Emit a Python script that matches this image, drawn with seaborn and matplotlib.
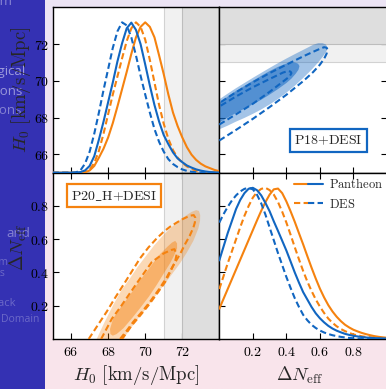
import matplotlib
matplotlib.use("Agg")
import numpy as np
import matplotlib.pyplot as plt
import seaborn as sns
from matplotlib.lines import Line2D
from matplotlib.patches import Rectangle
from matplotlib.legend_handler import HandlerTuple
from matplotlib.ticker import FixedLocator, FixedFormatter

# ---------------------------------------------------------------- data
h0_range = [65.0, 74.0]
dn_range = [0.0, 1.0]
h0_ticks = [66, 68, 70, 72]
dn_ticks = [0.2, 0.4, 0.6, 0.8]
sh0es_mean, sh0es_sigma = 73.0, 1.0

# marginal posteriors (peak-normalised)
h0_grid = [65.0, 65.25, 65.5, 65.75, 66.0, 66.25, 66.5, 66.75, 67.0, 67.25, 67.5, 67.75,
           68.0, 68.25, 68.5, 68.75, 69.0, 69.25, 69.5, 69.75, 70.0, 70.25, 70.5, 70.75,
           71.0, 71.25, 71.5, 71.75, 72.0, 72.25, 72.5, 72.75, 73.0, 73.25, 73.5, 73.75, 74.0]
p18_pan_h0_pdf = [0, 0, 0, 0, 0, 0.001, 0.004, 0.015, 0.045, 0.11, 0.22, 0.34,
                  0.47, 0.60, 0.74, 0.86, 0.96, 0.998, 0.95, 0.855, 0.72, 0.58, 0.45, 0.34,
                  0.25, 0.19, 0.135, 0.095, 0.07, 0.048, 0.034, 0.022, 0.014, 0.008, 0.004, 0.002, 0.001]
p18_des_h0_pdf = [0, 0, 0, 0, 0, 0.002, 0.015, 0.06, 0.14, 0.26, 0.40, 0.55,
                  0.69, 0.83, 0.94, 1.0, 0.98, 0.9, 0.78, 0.645, 0.52, 0.40, 0.29, 0.205,
                  0.14, 0.09, 0.058, 0.037, 0.022, 0.012, 0.006, 0.003, 0.001, 0, 0, 0, 0]
p20_pan_h0_pdf = [0, 0, 0, 0, 0, 0, 0, 0.003, 0.015, 0.045, 0.10, 0.16,
                  0.235, 0.33, 0.44, 0.555, 0.67, 0.79, 0.90, 0.97, 1.0, 0.97, 0.90, 0.78,
                  0.655, 0.52, 0.40, 0.31, 0.235, 0.17, 0.12, 0.085, 0.06, 0.042, 0.03, 0.018, 0.01]
p20_des_h0_pdf = [0, 0, 0, 0, 0, 0, 0, 0.003, 0.02, 0.065, 0.145, 0.26,
                  0.39, 0.52, 0.64, 0.76, 0.875, 0.96, 1.0, 0.97, 0.885, 0.75, 0.60, 0.45,
                  0.325, 0.225, 0.15, 0.10, 0.066, 0.042, 0.025, 0.013, 0.006, 0.002, 0, 0, 0]

dn_grid = [0.0, 0.025, 0.05, 0.075, 0.1, 0.125, 0.15, 0.175, 0.2, 0.225, 0.25, 0.275, 0.3, 0.325,
           0.35, 0.375, 0.4, 0.425, 0.45, 0.475, 0.5, 0.525, 0.55, 0.575, 0.6, 0.625, 0.65,
           0.675, 0.7, 0.725, 0.75, 0.775, 0.8, 0.825, 0.85, 0.875, 0.9, 0.925, 0.95, 0.975, 1.0]
p18_pan_dn_pdf = [0.52, 0.61, 0.70, 0.78, 0.86, 0.92, 0.965, 0.994, 1.0, 0.984, 0.95, 0.90, 0.845, 0.778,
                  0.715, 0.65, 0.585, 0.513, 0.44, 0.373, 0.31, 0.261, 0.212, 0.17, 0.137, 0.11, 0.087,
                  0.069, 0.055, 0.044, 0.034, 0.027, 0.021, 0.017, 0.013, 0.01, 0.008, 0.006, 0.005, 0.004, 0.003]
p18_des_dn_pdf = [0.77, 0.825, 0.874, 0.916, 0.95, 0.976, 0.993, 1.0, 0.99, 0.954, 0.897, 0.823, 0.738, 0.653,
                  0.568, 0.489, 0.41, 0.338, 0.27, 0.212, 0.16, 0.124, 0.094, 0.073, 0.056, 0.043, 0.033,
                  0.025, 0.019, 0.014, 0.01, 0.007, 0.005, 0.003, 0.002, 0.0015, 0.001, 0.0005, 0.0, 0.0, 0.0]
p20_pan_dn_pdf = [0.2, 0.265, 0.33, 0.395, 0.46, 0.525, 0.59, 0.655, 0.72, 0.785, 0.848, 0.905, 0.955, 0.99,
                  0.995, 0.965, 0.91, 0.845, 0.775, 0.70, 0.626, 0.548, 0.472, 0.40, 0.333, 0.275, 0.224,
                  0.182, 0.147, 0.118, 0.094, 0.076, 0.061, 0.05, 0.04, 0.032, 0.025, 0.019, 0.0145, 0.011, 0.008]
p20_des_dn_pdf = [0.33, 0.415, 0.50, 0.58, 0.66, 0.74, 0.815, 0.88, 0.935, 0.972, 0.993, 1.0, 0.985, 0.955,
                  0.906, 0.842, 0.77, 0.69, 0.607, 0.527, 0.45, 0.38, 0.318, 0.262, 0.214, 0.172, 0.135,
                  0.107, 0.084, 0.066, 0.052, 0.04, 0.03, 0.024, 0.018, 0.014, 0.011, 0.008, 0.006, 0.004, 0.003]

# 2D credible regions, P18+DESI (x: Delta N_eff, y: H0)
p18_pan_c95_dn = [0.0, 0.05, 0.1, 0.15, 0.2, 0.25, 0.3, 0.35, 0.4, 0.45, 0.5, 0.55, 0.59, 0.62, 0.64, 0.645,
                  0.635, 0.615, 0.59, 0.56, 0.5, 0.45, 0.4, 0.35, 0.3, 0.25, 0.2, 0.15, 0.1, 0.05, 0.0]
p18_pan_c95_h0 = [67.36, 67.56, 67.78, 67.98, 68.2, 68.44, 68.71, 69.01, 69.35, 69.73, 70.15, 70.6, 71.0, 71.35, 71.62, 71.82,
                  71.98, 72.05, 72.05, 71.96, 71.68, 71.45, 71.21, 70.96, 70.7, 70.43, 70.16, 69.88, 69.6, 69.3, 68.99]
p18_pan_c68_dn = [0.0, 0.05, 0.1, 0.15, 0.2, 0.25, 0.3, 0.35, 0.4, 0.43, 0.455, 0.472, 0.478,
                  0.47, 0.45, 0.42, 0.4, 0.35, 0.3, 0.25, 0.2, 0.15, 0.1, 0.05, 0.0]
p18_pan_c68_h0 = [67.73, 68.0, 68.25, 68.48, 68.72, 68.97, 69.25, 69.55, 69.88, 70.12, 70.38, 70.6, 70.8,
                  70.93, 71.0, 71.0, 70.94, 70.76, 70.53, 70.27, 70.0, 69.72, 69.45, 69.14, 68.81]
p18_des_c95_dn = [0.0, 0.1, 0.2, 0.3, 0.4, 0.5, 0.56, 0.6, 0.625, 0.64, 0.645,
                  0.64, 0.625, 0.6, 0.56, 0.5, 0.4, 0.3, 0.2, 0.1, 0.0]
p18_des_c95_h0 = [66.75, 67.33, 67.93, 68.57, 69.24, 69.98, 70.48, 70.88, 71.2, 71.48, 71.7,
                  71.8, 71.83, 71.74, 71.58, 71.33, 70.88, 70.42, 69.92, 69.38, 68.79]
p18_des_c68_dn = [0.0, 0.1, 0.2, 0.3, 0.4, 0.42, 0.43, 0.425, 0.41, 0.38, 0.3, 0.2, 0.1, 0.0]
p18_des_c68_h0 = [67.62, 68.18, 68.75, 69.4, 70.1, 70.25, 70.42, 70.5, 70.53, 70.45, 70.1, 69.65, 69.15, 68.6]

# 2D credible regions, P20_H+DESI (x: H0, y: Delta N_eff)
p20_pan_c95_h0 = [67.38, 67.8, 68.27, 68.7, 69.18, 69.6, 70.08, 70.5, 70.98, 71.4, 71.88, 72.2, 72.5, 72.75,
                  72.9, 72.97, 72.96, 72.87, 72.6, 72.25, 71.88, 71.4, 70.98, 70.5, 70.08, 69.6, 69.18, 68.82]
p20_pan_c95_dn = [0.0, 0.1, 0.204, 0.29, 0.365, 0.435, 0.505, 0.565, 0.625, 0.67, 0.716, 0.742, 0.764, 0.775,
                  0.77, 0.745, 0.71, 0.665, 0.59, 0.52, 0.455, 0.383, 0.32, 0.25, 0.187, 0.12, 0.058, 0.0]
p20_pan_c68_h0 = [68.12, 68.1, 68.27, 68.7, 69.18, 69.6, 70.08, 70.45, 70.8, 71.2, 71.45, 71.62,
                  71.72, 71.72, 71.55, 71.34, 70.98, 70.62, 70.2, 69.72, 69.25, 68.82, 68.46, 68.25]
p20_pan_c68_dn = [0.03, 0.06, 0.124, 0.193, 0.265, 0.335, 0.405, 0.46, 0.51, 0.555, 0.58, 0.59,
                  0.575, 0.545, 0.5, 0.455, 0.39, 0.325, 0.255, 0.185, 0.12, 0.064, 0.03, 0.02]
p20_des_c95_h0 = [66.95, 67.45, 67.92, 68.37, 68.82, 69.27, 69.72, 70.17, 70.62, 71.0, 71.34, 71.7, 72.0, 72.25, 72.45,
                  72.62, 72.7, 72.68, 72.6, 72.4, 72.15, 71.88, 71.5, 71.16, 70.72, 70.26, 69.8, 69.36, 69.0, 68.64]
p20_des_c95_dn = [0.0, 0.085, 0.164, 0.247, 0.325, 0.405, 0.485, 0.55, 0.605, 0.645, 0.675, 0.7, 0.72, 0.733, 0.742,
                  0.745, 0.73, 0.7, 0.67, 0.62, 0.57, 0.51, 0.44, 0.37, 0.295, 0.224, 0.16, 0.104, 0.05, 0.0]
p20_des_c68_h0 = [67.62, 68.2, 68.65, 69.1, 69.7, 70.36, 71.0, 71.4, 71.58,
                  71.7, 71.6, 71.08, 70.62, 70.18, 69.72, 69.28, 68.83, 68.75]
p20_des_c68_dn = [0.0, 0.122, 0.19, 0.263, 0.36, 0.463, 0.515, 0.535, 0.54,
                  0.51, 0.46, 0.343, 0.27, 0.203, 0.14, 0.082, 0.012, 0.0]

legend_labels = ["Pantheon", "DES"]
dataset_labels = [r"P18{+}DESI", r"P20\_H{+}DESI"]
sidebar_words = ["Spectrum", "Cosmological", "Observations", "Simulations",
                 "and", "Spectrum", "Rates", "Feedback", "Domain"]

# ---------------------------------------------------------------- style
sns.set_theme(style="ticks")
plt.rcParams["font.family"] = ["DejaVu Serif"]
plt.rcParams["mathtext.fontset"] = "cm"

BLUE = "#1166c1"
ORANGE = "#f5820f"
LW = 1.5
DASH = (0, (3.0, 1.6))
W_PX, H_PX = 386.0, 389.0

fig = plt.figure(figsize=(3.86, 3.89), dpi=100)


def px_box(left, top, right, bottom):
    return [left / W_PX, 1 - bottom / H_PX, (right - left) / W_PX, (bottom - top) / H_PX]


# slide background: gradient, side bar and its faded entries
bg = fig.add_axes([0, 0, 1, 1], zorder=-10)
top_c = np.array([236, 229, 245]) / 255.0
bot_c = np.array([250, 228, 235]) / 255.0
t = np.linspace(0, 1, 200)[:, None, None]
bg.imshow(top_c * (1 - t) + bot_c * t, extent=[0, W_PX, H_PX, 0], aspect="auto")
bg.add_patch(Rectangle((0, 0), 45, H_PX, color="#3431b3", lw=0))
side_pos = [(12, 1), (25, 71), (23, 91), (22, 110), (30, 233), (8, 262), (5, 273), (16, 303), (0.5, 320)]
side_ha = ["right"] * 8 + ["left"]
side_col = ["#8a87d4", "#9e9cdc", "#9997da", "#8583d2", "#8583d2", "#6c69c8", "#6c69c8", "#6c69c8", "#6c69c8"]
side_fs = [9.5, 9.5, 9.5, 9.5, 9.5, 7.5, 7.5, 8, 7.5]
for word, (xe, yc), ha, col, fs in zip(sidebar_words, side_pos, side_ha, side_col, side_fs):
    bg.text(xe, yc, word, ha=ha, va="center", color=col, fontsize=fs, family="Open Sans")
bg.set_xlim(0, W_PX)
bg.set_ylim(H_PX, 0)
bg.axis("off")

cols = [52.6, 219.3, 387.0]
rows = [7.3, 172.7, 339.0]
ax_tl = fig.add_axes(px_box(cols[0], rows[0], cols[1], rows[1]))
ax_tr = fig.add_axes(px_box(cols[1], rows[0], cols[2], rows[1]))
ax_bl = fig.add_axes(px_box(cols[0], rows[1], cols[1], rows[2]))
ax_br = fig.add_axes(px_box(cols[1], rows[1], cols[2], rows[2]))


def dollar(v):
    return "$%g$" % v


def setup(ax, xlim, ylim, xt, yt, sides, lab_x, lab_y):
    ax.set_facecolor("white")
    ax.set_xlim(*xlim)
    ax.set_ylim(*ylim)
    ax.xaxis.set_major_locator(FixedLocator(xt))
    ax.yaxis.set_major_locator(FixedLocator(yt))
    ax.xaxis.set_major_formatter(FixedFormatter([dollar(v) for v in xt]))
    ax.yaxis.set_major_formatter(FixedFormatter([dollar(v) for v in yt]))
    ax.xaxis.set_minor_locator(FixedLocator([]))
    ax.yaxis.set_minor_locator(FixedLocator([]))
    for s in ax.spines.values():
        s.set_visible(True)
        s.set_linewidth(1.0)
        s.set_color("black")
    ax.tick_params(axis="both", which="major", direction="in", length=4, width=0.8, color="black",
                   top="t" in sides, bottom="b" in sides, left="l" in sides, right="r" in sides,
                   labelbottom=lab_x, labelleft=lab_y, labeltop=False, labelright=False,
                   labelsize=10, labelcolor="black")
    ax.tick_params(axis="x", pad=4)
    ax.tick_params(axis="y", pad=2.5)


setup(ax_tl, h0_range, h0_range, h0_ticks, h0_ticks, "bl", False, True)
setup(ax_tr, dn_range, h0_range, dn_ticks, h0_ticks, "tblr", False, False)
setup(ax_bl, h0_range, dn_range, h0_ticks, dn_ticks, "tblr", True, True)
setup(ax_br, dn_range, dn_range, dn_ticks, dn_ticks, "tbl", True, False)

# local-H0 prior bands
for ax, span in ((ax_tl, ax_tl.axvspan), (ax_bl, ax_bl.axvspan), (ax_tr, ax_tr.axhspan)):
    span(sh0es_mean - 2 * sh0es_sigma, sh0es_mean + 2 * sh0es_sigma,
         fc="#f1f1f1", ec="#d2d2d2", lw=0.8, zorder=0.5)
    span(sh0es_mean - sh0es_sigma, sh0es_mean + sh0es_sigma,
         fc="#dedede", ec="#bdbdbd", lw=0.8, zorder=0.6)


# 1D marginals drawn on twin axes holding the density scale
def density_axes(ax):
    tw = ax.twinx()
    tw.set_ylim(0, 1.1)
    tw.set_yticks([])
    tw.tick_params(right=False, left=False, labelright=False)
    for s in tw.spines.values():
        s.set_visible(False)
    tw.patch.set_visible(False)
    return tw


d_tl = density_axes(ax_tl)
d_br = density_axes(ax_br)

for ax, grid, curves in (
        (d_tl, h0_grid, [(p20_pan_h0_pdf, ORANGE, "-"), (p20_des_h0_pdf, ORANGE, DASH),
                         (p18_pan_h0_pdf, BLUE, "-"), (p18_des_h0_pdf, BLUE, DASH)]),
        (d_br, dn_grid, [(p20_pan_dn_pdf, ORANGE, "-"), (p20_des_dn_pdf, ORANGE, DASH),
                         (p18_pan_dn_pdf, BLUE, "-"), (p18_des_dn_pdf, BLUE, DASH)])):
    for pdf, col, ls in curves:
        sns.lineplot(x=grid, y=pdf, ax=ax, color=col, linestyle=ls, lw=LW, legend=False,
                     zorder=3, clip_on=True)
    ax.set_xlabel("")
    ax.set_ylabel("")
    ax.set_ylim(0, 1.1)

# 2D credible regions
ax_tr.fill(p18_pan_c95_dn, p18_pan_c95_h0, color=BLUE, alpha=0.38, lw=0, zorder=2)
ax_tr.fill(p18_pan_c68_dn, p18_pan_c68_h0, color=BLUE, alpha=0.55, lw=0, zorder=2.1)
ax_tr.plot(p18_des_c95_dn, p18_des_c95_h0, color=BLUE, ls=DASH, lw=LW, zorder=3)
ax_tr.plot(p18_des_c68_dn, p18_des_c68_h0, color=BLUE, ls=DASH, lw=LW, zorder=3)

ax_bl.fill(p20_pan_c95_h0, p20_pan_c95_dn, color=ORANGE, alpha=0.3, lw=0, zorder=2)
ax_bl.fill(p20_pan_c68_h0, p20_pan_c68_dn, color=ORANGE, alpha=0.45, lw=0, zorder=2.1)
ax_bl.plot(p20_des_c95_h0, p20_des_c95_dn, color=ORANGE, ls=DASH, lw=LW, zorder=3)
ax_bl.plot(p20_des_c68_h0, p20_des_c68_dn, color=ORANGE, ls=DASH, lw=LW, zorder=3)

# dataset tags
ax_tr.text(0.652, 0.195, r"$\mathrm{%s}$" % dataset_labels[0], transform=ax_tr.transAxes,
           ha="center", va="center", fontsize=10, zorder=6,
           bbox=dict(boxstyle="square,pad=0.3", fc="white", ec=BLUE, lw=1.6))
ax_bl.text(0.369, 0.862, r"$\mathrm{%s}$" % dataset_labels[1], transform=ax_bl.transAxes,
           ha="center", va="center", fontsize=10, zorder=6,
           bbox=dict(boxstyle="square,pad=0.3", fc="white", ec=ORANGE, lw=1.6))

# legend with two-colour handles
h_pan = (Line2D([], [], color=ORANGE, lw=LW), Line2D([], [], color=BLUE, lw=LW))
h_des = (Line2D([], [], color=ORANGE, lw=LW, ls=DASH), Line2D([], [], color=BLUE, lw=LW, ls=DASH))
d_br.legend([h_pan, h_des], [r"$\mathrm{%s}$" % s for s in legend_labels],
            handler_map={tuple: HandlerTuple(ndivide=None, pad=0.0)},
            loc="upper left", bbox_to_anchor=(0.448, 0.972), frameon=False, fontsize=9,
            handlelength=2.25, handletextpad=0.55, borderaxespad=0, borderpad=0, labelspacing=0.5)

# axis titles
h0_label = r"$H_0\ [\mathrm{km/s/Mpc}]$"
dn_label = r"$\Delta N_{\rm eff}$"
fig.text(21 / W_PX, 1 - 90 / H_PX, h0_label, rotation=90, ha="center", va="center", fontsize=13.5)
fig.text(18.7 / W_PX, 1 - 247 / H_PX, dn_label, rotation=90, ha="center", va="center", fontsize=13.5)
fig.text(136 / W_PX, 1 - 375 / H_PX, h0_label, ha="center", va="center", fontsize=13.5)
fig.text(300 / W_PX, 1 - 375 / H_PX, dn_label, ha="center", va="center", fontsize=13.5)

fig.savefig("out.png", dpi=100)
